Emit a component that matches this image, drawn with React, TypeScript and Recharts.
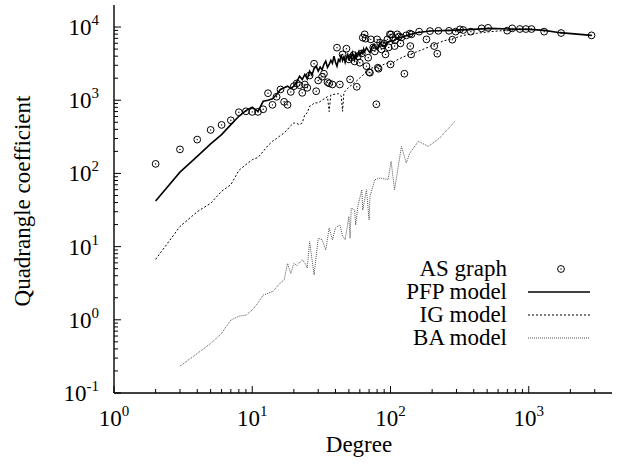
import React from 'react';
import { ComposedChart, Line, Scatter, XAxis, YAxis, Label } from 'recharts';

// [degree, quadrangle coefficient]
const asGraph: [number, number][] = [
  [2, 135], [3, 213], [4, 290], [5, 393], [6, 460], [7, 532], [8, 685], [9, 706], [10, 693], [11, 693],
  [12, 753], [13, 1247], [14, 865], [15, 1114], [16, 1403], [17, 951], [18, 865], [19, 1300], [20, 1556],
  [21, 1700], [22, 1604], [23, 1262], [24, 1641], [25, 1479], [26, 2178], [28, 3152], [29, 1327], [30, 1862],
  [32, 2094], [33, 2300], [35, 1765], [36, 1700], [38, 1641], [41, 5224], [43, 1641], [45, 4227], [48, 5059],
  [50, 3614], [51, 1923], [52, 3811], [54, 4134], [55, 3388], [57, 1527], [58, 3981], [60, 3251], [62, 4365],
  [63, 7161], [65, 7943], [66, 6934], [67, 2924], [69, 3811], [70, 2420], [71, 2373], [72, 6787], [75, 5272],
  [77, 4645], [79, 881], [80, 6787], [81, 2780], [82, 2692], [84, 6109], [86, 4955], [88, 5610], [90, 5984],
  [92, 4227], [95, 6787], [97, 5272], [99, 7943], [100, 3083], [101, 7943], [104, 7228], [107, 5495],
  [108, 6577], [112, 7943], [115, 7413], [118, 5984], [120, 7228], [126, 2301], [130, 7700], [138, 8128],
  [139, 5495], [141, 4227], [142, 7943], [161, 8650], [182, 6787], [193, 8810], [207, 5495], [218, 4325],
  [222, 8872], [265, 8872], [280, 6714], [296, 8650], [318, 9297], [336, 9099], [381, 8650], [456, 9594],
  [508, 9750], [698, 8930], [759, 9594], [862, 9390], [953, 9390], [1047, 9390], [1292, 8650], [1714, 8279],
  [2844, 7694],
];

const pfpModel: [number, number][] = [
  [2, 42], [3, 104], [4, 171], [5, 253], [6, 339], [7, 464], [8, 604], [9, 720], [10, 802], [11, 706],
  [12, 968], [13, 1000], [14, 1045], [15, 1200], [16, 1403], [17, 1480], [18, 1556], [19, 1450], [20, 1556],
  [21, 1800], [22, 2133], [23, 1923], [24, 2249], [25, 1950], [26, 2495], [27, 2200], [28, 2700], [29, 2924],
  [30, 2500], [31, 2831], [32, 2600], [33, 3100], [34, 3420], [35, 2800], [36, 3083], [37, 3500], [38, 3200],
  [39, 4009], [40, 3300], [41, 2924], [42, 3600], [43, 3400], [44, 4227], [45, 3500], [46, 3900], [47, 3300],
  [48, 3811], [49, 4200], [50, 3500], [51, 4000], [52, 3700], [53, 4457], [54, 4000], [55, 3600], [56, 4300],
  [57, 3900], [58, 4227], [59, 4600], [60, 4000], [61, 4500], [62, 4688], [63, 4200], [64, 5000], [65, 4600],
  [67, 5224], [69, 4800], [71, 4457], [73, 5300], [76, 5795], [78, 5200], [80, 4955], [82, 5600], [84, 6109],
  [87, 5600], [91, 5495], [95, 6200], [99, 6427], [104, 6300], [108, 6787], [117, 7161], [130, 7600],
  [154, 8375], [193, 8810], [268, 9016], [398, 9297], [525, 9594], [707, 9400], [1010, 9297], [1300, 9000],
  [1680, 8375], [2844, 7694],
];

const igModel: [number, number][] = [
  [2, 6.7], [3, 18.8], [4, 30], [5, 39], [6, 57], [7, 70], [8, 110], [9, 132], [10, 154], [11, 165],
  [12, 200], [13, 240], [14, 275], [15, 300], [16, 330], [17, 357], [18, 400], [19, 450], [20, 490],
  [21, 480], [22, 464], [23, 490], [24, 637], [25, 672], [26, 828], [27, 850], [28, 921], [30, 921],
  [32, 1000], [34, 1079], [35, 1120], [36, 700], [37, 1180], [38, 1197], [40, 1210], [42, 1230], [44, 1150],
  [45, 706], [46, 1262], [48, 1400], [51, 1556], [55, 1730], [58, 1900], [62, 2133], [65, 2300], [69, 2636],
  [75, 2800], [80, 2850], [84, 2924], [90, 3100], [96, 3251], [101, 3100], [110, 3500], [123, 3900],
  [146, 4400], [172, 4955], [203, 5662], [240, 6427], [285, 7000], [336, 7690], [418, 8200], [525, 8650],
  [690, 9016], [900, 9200],
];

const baModel: [number, number][] = [
  [3, 0.232], [4, 0.347], [5, 0.475], [6, 0.652], [7, 0.99], [8, 1.12], [9, 1.16], [10, 1.36], [11, 1.7],
  [12, 2.18], [14, 2.42], [16, 3.2], [17, 3.5], [18, 5.9], [19, 4.3], [20, 5.9], [21, 5.5], [23, 6.6],
  [24, 6.0], [25, 5.1], [26, 11.7], [28, 4.1], [30, 13], [32, 12.4], [34, 9], [36, 17.9], [38, 12.4],
  [40, 18], [43, 19.8], [45, 14], [47, 12.4], [50, 25.8], [51, 13], [52, 33.6], [55, 31.6], [56, 19.8],
  [58, 35.3], [62, 59.8], [63, 31.6], [67, 59.8], [70, 23.2], [71, 48.4], [77, 82], [84, 86.5], [96, 82],
  [101, 146], [107, 59.8], [120, 234], [130, 139], [138, 190], [159, 274], [188, 234], [227, 305], [292, 515],
];

const xTicks = [1, 2, 3, 4, 5, 6, 7, 8, 9, 10, 20, 30, 40, 50, 60, 70, 80, 90, 100, 200, 300, 400, 500, 600,
  700, 800, 900, 1000, 2000, 3000];
const yTicks = [0.1, 0.2, 0.3, 0.4, 0.5, 0.6, 0.7, 0.8, 0.9, 1, 2, 3, 4, 5, 6, 7, 8, 9, 10, 20, 30, 40, 50,
  60, 70, 80, 90, 100, 200, 300, 400, 500, 600, 700, 800, 900, 1000, 2000, 3000, 4000, 5000, 6000, 7000,
  8000, 9000, 10000];

const legendLabels = ['AS graph', 'PFP model', 'IG model', 'BA model'];
const xTitle = 'Degree';
const yTitle = 'Quadrangle coefficient';

const FONT = "'Liberation Serif', 'DejaVu Serif', serif";
const FS = 23;
const SUP = 15;

const toPts = (a: [number, number][]) => a.map(([x, y]) => ({ x, y }));

const expOf = (v: number) => {
  const l = Math.log10(v);
  const e = Math.round(l);
  return { e, major: Math.abs(l - e) < 1e-9 };
};

const MAJ = 7;
const MIN = 4;

const BottomTick = (p: any) => {
  const { x, y, payload } = p;
  const { e, major } = expOf(payload.value);
  return (
    <g>
      <line x1={x} x2={x} y1={y} y2={y - (major ? MAJ : MIN)} stroke="#000" strokeWidth={1} />
      {major && (
        <text x={x} y={y + 33} textAnchor="middle" fontFamily={FONT} fontSize={FS} fill="#000">
          10<tspan dy={-10} fontSize={SUP}>{e}</tspan>
        </text>
      )}
    </g>
  );
};

const TopTick = (p: any) => {
  const { x, y, payload } = p;
  const { major } = expOf(payload.value);
  return <line x1={x} x2={x} y1={y} y2={y + (major ? MAJ : MIN)} stroke="#000" strokeWidth={1} />;
};

const LeftTick = (p: any) => {
  const { x, y, payload } = p;
  const { e, major } = expOf(payload.value);
  return (
    <g>
      <line x1={x} x2={x + (major ? MAJ : MIN)} y1={y} y2={y} stroke="#000" strokeWidth={1} />
      {major && (
        <text x={x - 15} y={y + 8} textAnchor="end" fontFamily={FONT} fontSize={FS} fill="#000">
          10<tspan dy={-10} fontSize={SUP}>{e}</tspan>
        </text>
      )}
    </g>
  );
};

const RightTick = (p: any) => {
  const { x, y, payload } = p;
  const { major } = expOf(payload.value);
  return <line x1={x} x2={x - (major ? MAJ : MIN)} y1={y} y2={y} stroke="#000" strokeWidth={1} />;
};

const AsMarker = (p: any) => {
  const { cx, cy } = p;
  if (cx == null || cy == null) return <g />;
  return (
    <g>
      <circle cx={cx} cy={cy} r={3.4} fill="none" stroke="#000" strokeWidth={1} />
      <circle cx={cx} cy={cy} r={0.7} fill="#000" />
    </g>
  );
};

const LegendOverlay = () => {
  const textX = 507;
  const base = [276, 299, 322, 345];
  return (
    <svg width={624} height={468} style={{ position: 'absolute', left: 0, top: 0, pointerEvents: 'none' }}>
      {legendLabels.map((t, i) => (
        <text key={t} x={textX} y={base[i]} textAnchor="end" fontFamily={FONT} fontSize={FS} fill="#000">
          {t}
        </text>
      ))}
      <AsMarker cx={561} cy={base[0] - 7} />
      <line x1={528} x2={590} y1={base[1] - 7} y2={base[1] - 7} stroke="#000" strokeWidth={1.6} />
      <line x1={528} x2={590} y1={base[2] - 7} y2={base[2] - 7} stroke="#000" strokeWidth={1} strokeDasharray="2 2" />
      <line x1={528} x2={590} y1={base[3] - 7} y2={base[3] - 7} stroke="#555" strokeWidth={1} strokeDasharray="1 1" />
    </svg>
  );
};

const XTitle = (p: any) => {
  const vb = p.viewBox;
  return (
    <text x={vb.x + vb.width / 2 - 4} y={452} textAnchor="middle" fontFamily={FONT} fontSize={FS} fill="#000">
      {xTitle}
    </text>
  );
};

const YTitle = (p: any) => {
  const vb = p.viewBox;
  const cy = vb.y + vb.height / 2 + 2;
  return (
    <text x={30} y={cy} transform={`rotate(-90 30 ${cy})`} textAnchor="middle" fontFamily={FONT} fontSize={FS} fill="#000">
      {yTitle}
    </text>
  );
};

export default function App() {
  return (
    <div style={{ position: 'absolute', left: 0, top: 0, width: 624, height: 468, background: '#fff' }}>
      <ComposedChart width={624} height={468} margin={{ top: 5, right: 12, bottom: 0, left: 0 }}>
        <XAxis
          xAxisId="b"
          dataKey="x"
          type="number"
          scale="log"
          domain={[1, 4000]}
          allowDataOverflow
          ticks={xTicks}
          interval={0}
          tickSize={0}
          tickMargin={0}
          tickLine={false}
          tick={<BottomTick />}
          height={75}
          axisLine={{ stroke: '#000', strokeWidth: 1.4 }}
        >
          <Label content={<XTitle />} />
        </XAxis>
        <XAxis
          xAxisId="t"
          orientation="top"
          dataKey="x"
          type="number"
          scale="log"
          domain={[1, 4000]}
          allowDataOverflow
          ticks={xTicks}
          interval={0}
          tickSize={0}
          tickMargin={0}
          tickLine={false}
          tick={<TopTick />}
          height={0}
          axisLine={{ stroke: '#000', strokeWidth: 1.4 }}
        />
        <YAxis
          yAxisId="l"
          dataKey="y"
          type="number"
          scale="log"
          domain={[0.1, 20000]}
          allowDataOverflow
          ticks={yTicks}
          interval={0}
          tickSize={0}
          tickMargin={0}
          tickLine={false}
          tick={<LeftTick />}
          width={114}
          axisLine={{ stroke: '#000', strokeWidth: 1.4 }}
        >
          <Label content={<YTitle />} />
        </YAxis>
        <YAxis
          yAxisId="r"
          orientation="right"
          dataKey="y"
          type="number"
          scale="log"
          domain={[0.1, 20000]}
          allowDataOverflow
          ticks={yTicks}
          interval={0}
          tickSize={0}
          tickMargin={0}
          tickLine={false}
          tick={<RightTick />}
          width={0}
          axisLine={{ stroke: '#000', strokeWidth: 1.4 }}
        />
        <Line
          xAxisId="b"
          yAxisId="l"
          data={toPts(baModel)}
          dataKey="y"
          stroke="#555"
          strokeWidth={1}
          strokeDasharray="1 1"
          dot={false}
          isAnimationActive={false}
        />
        <Line
          xAxisId="b"
          yAxisId="l"
          data={toPts(igModel)}
          dataKey="y"
          stroke="#000"
          strokeWidth={1}
          strokeDasharray="2 2"
          dot={false}
          isAnimationActive={false}
        />
        <Line
          xAxisId="b"
          yAxisId="l"
          data={toPts(pfpModel)}
          dataKey="y"
          stroke="#000"
          strokeWidth={1.6}
          dot={false}
          isAnimationActive={false}
        />
        <Scatter
          xAxisId="b"
          yAxisId="l"
          data={toPts(asGraph)}
          dataKey="y"
          shape={<AsMarker />}
          isAnimationActive={false}
        />
      </ComposedChart>
      <LegendOverlay />
    </div>
  );
}
